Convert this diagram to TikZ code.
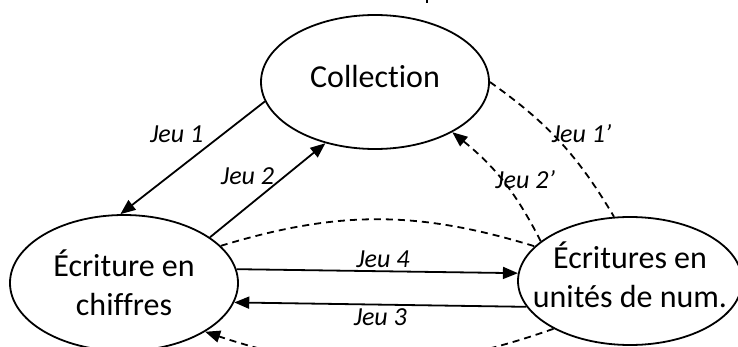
\documentclass[tikz,border=0pt]{standalone}
\usepackage{fontspec}
\setmainfont{Carlito}[Ligatures=NoCommon]
\usetikzlibrary{positioning,shapes.geometric,arrows.meta}

\begin{document}
\begin{tikzpicture}[x=1pt, y=1pt, on grid, line width=1.8pt,
    >={Triangle[length=15pt,width=12pt]},
    etat/.style={ellipse, draw, inner sep=-30pt, align=center, font=\fontsize{32}{39}\selectfont},
    jeu/.style={font=\fontsize{26}{30}\selectfont\itshape, inner sep=3pt},
    pointille/.style={dash pattern=on 7pt off 5pt}]
      \useasboundingbox (0,0) rectangle (738,346);
      \node (collection) [etat, minimum width=228pt, minimum height=134pt, text depth=12pt] at (375,264) {Collection};
      \node (chiffres) [etat, minimum width=228pt, minimum height=136pt, below left=201pt and 251pt of collection] {Écriture en\\chiffres};
      \node (unites) [etat, minimum width=224pt, minimum height=128pt, text depth=12pt, right=506pt of chiffres, yshift=2pt] {Écritures en\\unités de num.};
      \draw [->] (collection.190) -- node (j1) [pos=0.4, anchor=south east, jeu] {Jeu 1} (chiffres.93);
      \draw [->] (chiffres.28) -- node (j2) [pos=0.52, anchor=south east, xshift=8pt, jeu] {Jeu 2} (collection.231);
      \draw [->] (chiffres.7) -- node (j4) [pos=0.52, above, jeu] {Jeu 4} (unites.176);
      \draw [->] (unites.194) -- node (j3) [midway, below, jeu] {Jeu 3} (chiffres.350);
      \draw [pointille] (collection.0) to[bend left=12] node (j1p) [pos=0.43, anchor=west, xshift=-4pt, jeu] {Jeu 1’} (unites.104);
      \draw [->, pointille] (unites.156) to[bend right=12] node (j2p) [pos=0.52, anchor=west, xshift=-10pt, jeu] {Jeu 2’} (collection.327);
      \draw [pointille] (chiffres.21) to[bend left=17] (unites.160);
      \draw [->, pointille] (unites.212) to[bend left=19] (chiffres.329);
      % bout de trait coupe en haut
      \draw [line width=1.2pt] (427,346) -- (427,343);
  \end{tikzpicture}
\end{document}
